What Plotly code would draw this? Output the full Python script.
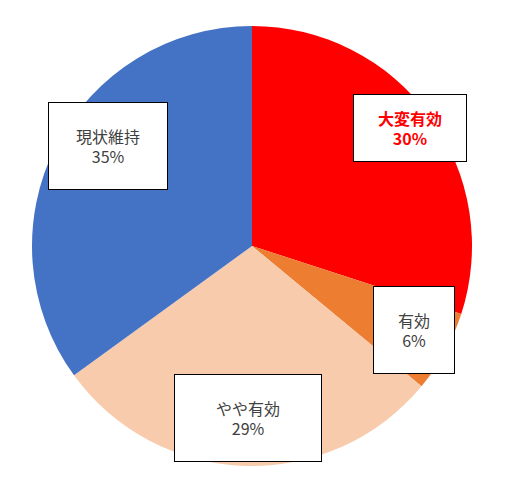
import plotly.graph_objects as go

labels = ["大変有効", "有効", "やや有効", "現状維持"]
values = [30, 6, 29, 35]
colors = ["#FF0000", "#ED7D31", "#F8CBAD", "#4472C4"]

W, H = 506, 480

fig = go.Figure(go.Pie(
    labels=labels, values=values, sort=False, direction="clockwise", rotation=0,
    marker=dict(colors=colors, line=dict(width=0)),
    textinfo="none", hoverinfo="label+percent",
    domain=dict(x=[24 / W, 464 / W], y=[1 - 458 / H, 1 - 18 / H]),
))

# label boxes: (center x, center y, width, height) in pixels
boxes = [(402, 120, 112, 66), (406, 322, 80, 86), (240, 410, 146, 86), (100, 138, 118, 86)]
anns = []
for (cx, cy, bw, bh), lab, v in zip(boxes, labels, values):
    red = lab == "大変有効"
    txt = f"<b>{lab}<br>{v}%</b>" if red else f"{lab}<br>{v}%"
    anns.append(dict(
        x=cx / W, y=1 - cy / H, xref="paper", yref="paper", text=txt, showarrow=False,
        xanchor="center", yanchor="middle",
        font=dict(size=16, color="#FF0000" if red else "#404040", family="Noto Sans CJK JP"),
        bgcolor="white", bordercolor="black", borderwidth=1,
        width=bw, height=bh, align="center", valign="middle", borderpad=0,
    ))

fig.update_layout(
    width=W, height=H, margin=dict(l=0, r=0, t=0, b=0),
    showlegend=False, paper_bgcolor="white", annotations=anns,
)

fig.write_html("out.html")
